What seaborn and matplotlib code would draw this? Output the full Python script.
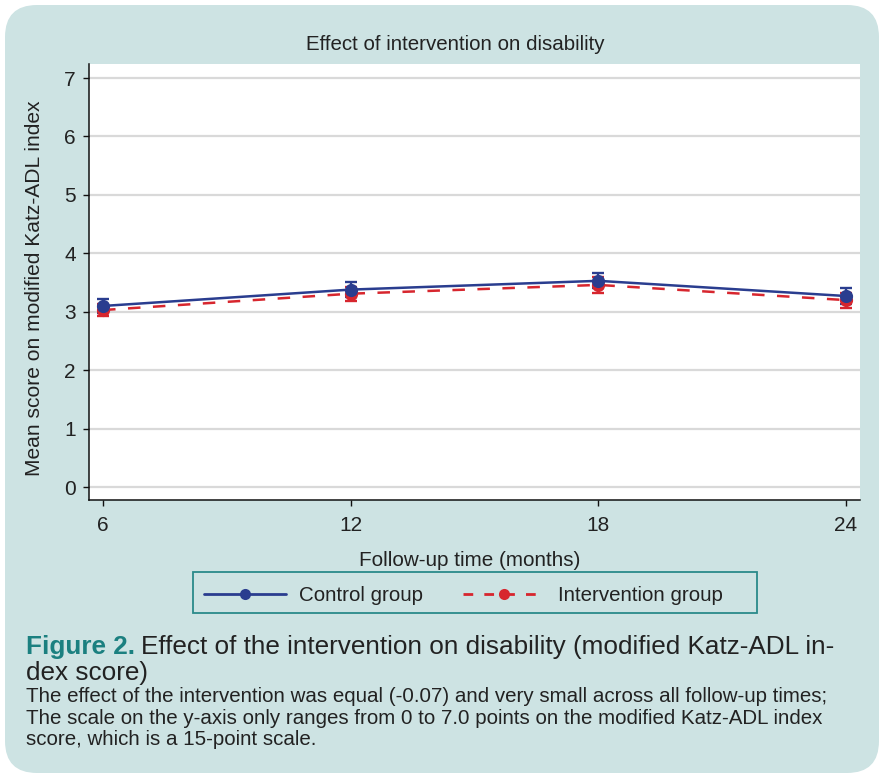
import numpy as np
import pandas as pd
import matplotlib
matplotlib.use("Agg")
import matplotlib.pyplot as plt
import seaborn as sns
from matplotlib.lines import Line2D
from matplotlib.patches import FancyBboxPatch, Rectangle
from matplotlib.transforms import IdentityTransform

# ---- data ----
months = [6, 12, 18, 24]
control_mean = [3.10, 3.38, 3.53, 3.27]
control_err = [0.12, 0.13, 0.13, 0.13]
interv_mean = [3.03, 3.31, 3.46, 3.20]
interv_err = [0.11, 0.12, 0.13, 0.13]
groups = ["Control group", "Intervention group"]
yticks = [0, 1, 2, 3, 4, 5, 6, 7]

BLUE = "#2a3d8f"
RED = "#d7262e"
BG = "#cde3e3"
TEAL = "#1b8080"
TXT = "#222222"

df = pd.DataFrame({
    "time": months * 2,
    "mean": control_mean + interv_mean,
    "err": control_err + interv_err,
    "group": [groups[0]] * 4 + [groups[1]] * 4,
})

sns.set_theme(style="white")
plt.rcParams["font.family"] = ["Liberation Sans", "DejaVu Sans"]

W, H = 881, 774
fig = plt.figure(figsize=(W / 100, H / 100), dpi=100, facecolor="white")

# rounded panel background
panel = FancyBboxPatch((5, 1), 874, 768, boxstyle="round,pad=0,rounding_size=32",
                       transform=IdentityTransform(), facecolor=BG, edgecolor="none",
                       zorder=-10)
fig.patches.append(panel)

L, R, T, B = 89, 860, 64, 500
ax = fig.add_axes([L / W, 1 - B / H, (R - L) / W, (B - T) / H])
ax.set_facecolor("white")

palette = {groups[0]: BLUE, groups[1]: RED}
# error bars
for g in [groups[1], groups[0]]:
    d = df[df["group"] == g]
    ax.errorbar(d["time"], d["mean"], yerr=d["err"], fmt="none", ecolor=palette[g],
                elinewidth=1.7, capsize=4.5, capthick=1.7, zorder=3)

sns.lineplot(data=df, x="time", y="mean", hue="group", style="group",
             hue_order=[groups[1], groups[0]], style_order=[groups[1], groups[0]],
             palette=palette, markers={groups[0]: "o", groups[1]: "o"},
             dashes={groups[0]: "", groups[1]: (5, 5)},
             estimator=None, linewidth=1.8, markersize=9.5, markeredgewidth=0,
             legend=False, ax=ax, zorder=4)

ax.set_xlim(5.66, 24.34)
ax.set_ylim(-0.22, 7.24)
ax.set_xticks(months)
ax.set_yticks(yticks)
ax.set_xticklabels([str(m) for m in months])
ax.set_yticklabels([str(v) for v in yticks])
ax.yaxis.grid(True, color="#d9d9d9", linewidth=1.6)
ax.xaxis.grid(False)
ax.set_axisbelow(True)
for s in ["top", "right"]:
    ax.spines[s].set_visible(False)
for s in ["left", "bottom"]:
    ax.spines[s].set_color("#111111")
    ax.spines[s].set_linewidth(1.1)
ax.tick_params(axis="both", direction="out", length=4.5, width=1.0, color="#111111",
               labelsize=15, labelcolor=TXT, pad=5)
ax.tick_params(axis="y", left=True)
ax.tick_params(axis="x", bottom=True, pad=7)
ax.set_xlabel("")
ax.set_ylabel("")

fig.text(455 / W, 1 - 45 / H, "Effect of intervention on disability", ha="center",
         va="center", fontsize=14.8, color=TXT)
fig.text(470 / W, 1 - 560 / H, "Follow-up time (months)", ha="center", va="center",
         fontsize=14.9, color=TXT)
fig.text(35 / W, 1 - 288 / H, "Mean score on modified Katz-ADL index", ha="center",
         va="center", rotation=90, fontsize=15.1, color=TXT)

# legend box
box = Rectangle((193, H - 613), 564, 41, transform=IdentityTransform(),
                facecolor=BG, edgecolor="#2a8a8a", linewidth=1.3, zorder=1)
fig.patches.append(box)

handles = [
    Line2D([], [], color=BLUE, linewidth=2.0, marker="o", markersize=8,
           markeredgewidth=0),
    Line2D([], [], color=RED, linewidth=2.0, linestyle=(0, (3.5, 4)), marker="o",
           markersize=8, markeredgewidth=0),
]
LFS = 14.8
fpx = LFS * 100 / 72
leg = fig.legend(handles, groups, loc="center", bbox_to_anchor=(463 / W, 1 - 595.5 / H),
                 ncol=2, frameon=False, fontsize=LFS, handlelength=82 / fpx,
                 columnspacing=40 / fpx, handletextpad=13 / fpx, borderpad=0,
                 borderaxespad=0, labelcolor=TXT)
leg.set_zorder(2)

# caption
BIG = 18.8
SMALL = 14.8
t1 = fig.text(26 / W, 1 - 654 / H, "Figure 2.", ha="left", va="baseline",
              fontsize=BIG, fontweight="bold", color=TEAL)
fig.canvas.draw()
bb = t1.get_window_extent()
fig.text((bb.x1 + 6) / W, 1 - 654 / H,
         "Effect of the intervention on disability (modified Katz-ADL in-",
         ha="left", va="baseline", fontsize=BIG, color=TXT)
fig.text(26 / W, 1 - 680 / H, "dex score)", ha="left", va="baseline",
         fontsize=BIG, color=TXT)
small = [
    "The effect of the intervention was equal (-0.07) and very small across all follow-up times;",
    "The scale on the y-axis only ranges from 0 to 7.0 points on the modified Katz-ADL index",
    "score, which is a 15-point scale.",
]
for i, s in enumerate(small):
    fig.text(26 / W, 1 - (702.5 + 21.3 * i) / H, s, ha="left", va="baseline",
             fontsize=SMALL, color=TXT)

fig.savefig("out.png", dpi=100, facecolor="white")
